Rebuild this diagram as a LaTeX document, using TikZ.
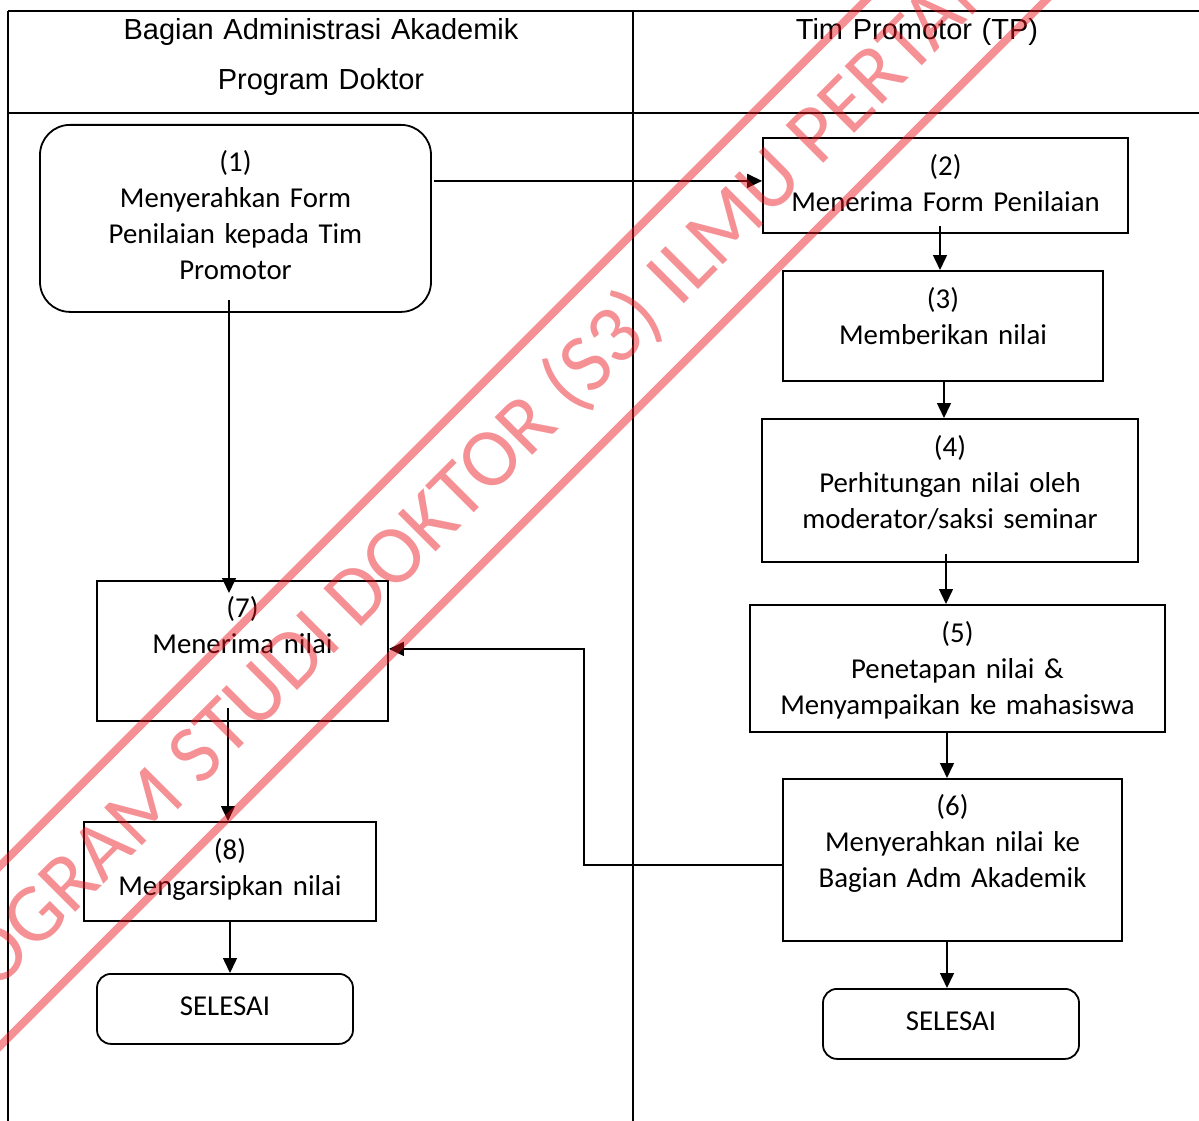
\documentclass[tikz,border=0pt]{standalone}
\usepackage{fontspec}
\setmainfont{Carlito}
\newfontfamily\hdrfont{Liberation Sans}
\newfontfamily\wmfont{Carlito}
\usetikzlibrary{arrows.meta,calc}
\definecolor{wmred}{RGB}{234,21,30}

\begin{document}
\begin{tikzpicture}[x=1pt,y=-1pt,
  frame/.style={line width=2pt},
  lane/.style={font=\hdrfont\fontsize{29}{50}\selectfont, align=center,
    inner sep=0pt, anchor=base, text width=600pt},
  stepbox/.style={draw, line width=1.8pt, inner sep=0pt, align=center,
    font=\fontsize{28.8}{36}\selectfont, anchor=north},
  endbox/.style={stepbox, rounded corners=14pt},
  arr/.style={line width=1.5pt, -{Triangle[length=15pt,width=14pt]}}
]
\useasboundingbox (0,0) rectangle (1199,1121);

% swimlane frame
\draw[frame] (8,11) -- (1199,11);
\draw[frame] (8,113) -- (1199,113);
\draw[frame] (8,11) -- (8,1121);
\draw[frame] (633,11) -- (633,1121);

\node[lane] (laneA) at (321,40) {Bagian Administrasi Akademik\\Program Doktor};
\node[lane] (laneB) at (917,40) {Tim Promotor (TP)};

% process steps
\node[stepbox, rounded corners=30pt, text width=391pt, text height=47pt, text depth=140pt]
  (n1) at (235.5,124) {(1)\\Menyerahkan Form\\Penilaian kepada Tim\\Promotor};
\node[stepbox, text width=365pt, text height=38pt, text depth=57pt]
  (n2) at (945.5,137) {(2)\\Menerima Form Penilaian};
\node[stepbox, text width=320pt, text height=38pt, text depth=72pt]
  (n3) at (943,270) {(3)\\Memberikan nilai};
\node[stepbox, text width=376pt, text height=38pt, text depth=105pt]
  (n4) at (950,418) {(4)\\Perhitungan nilai oleh\\moderator/saksi seminar};
\node[stepbox, text width=415pt, text height=38pt, text depth=89pt]
  (n5) at (957.5,604) {(5)\\Penetapan nilai \&\\Menyampaikan ke mahasiswa};
\node[stepbox, text width=339pt, text height=37pt, text depth=125pt]
  (n6) at (952.5,778) {(6)\\Menyerahkan nilai ke\\Bagian Adm Akademik};
\node[stepbox, text width=291pt, text height=37pt, text depth=103pt]
  (n7) at (242.5,580) {(7)\\Menerima nilai};
\node[stepbox, text width=292pt, text height=38pt, text depth=61pt]
  (n8) at (230,821) {(8)\\Mengarsipkan nilai};
\node[endbox, text width=256pt, text height=42pt, text depth=28pt]
  (endL) at (225,973) {SELESAI};
\node[endbox, text width=256pt, text height=42pt, text depth=28pt]
  (endR) at (951,988) {SELESAI};

% flow
\draw[arr] ($(n1.east |- n2.west)+(2,-4.5)$) -- ($(n2.west)+(0,-4.5)$);
\draw[arr] ($(n2.south)+(-5.5,-8)$) -- ($(n3.north)+(-3,0)$);
\draw[arr] ($(n3.south)+(1,0)$) -- ($(n4.north)+(-6,0)$);
\draw[arr] ($(n4.south)+(-4,-9)$) -- ($(n5.north)+(-11.5,0)$);
\draw[arr] ($(n5.south)+(-10.5,0)$) -- ($(n6.north)+(-5.5,0)$);
\draw[arr] ($(n6.south)+(-5.5,0)$) -- ($(endR.north)+(-4,0)$);
\draw[arr] ($(n1.south)+(-6.5,-13)$) -- ($(n7.north)+(-13.5,13)$);
\draw[arr] ($(n7.south)+(-14.5,-14)$) -- ($(n8.north)+(-2,0)$);
\draw[arr] (n8.south) -- ($(endL.north)+(5,0)$);
\draw[arr] ($(n6.west)+(0,5)$) -- ++(-198,0) |- ($(n7.east)+(0,-2)$);

% diagonal stamp
\begin{scope}
  \clip (0,0) rectangle (1199,1121);
  \draw[wmred, line width=8pt, opacity=0.47] (-200,1066) -- (1066,-200);
  \draw[wmred, line width=8pt, opacity=0.47] (-200,1246) -- (1246,-200);
  \node[text=wmred, text opacity=0.47, rotate=45, anchor=base west, inner sep=0pt,
    font=\wmfont\fontsize{83}{83}\selectfont] (wm) at (-66.5,1054.3)
    {PROGRAM STUDI DOKTOR (S3) ILMU PERTANIAN};
\end{scope}
\end{tikzpicture}
\end{document}
